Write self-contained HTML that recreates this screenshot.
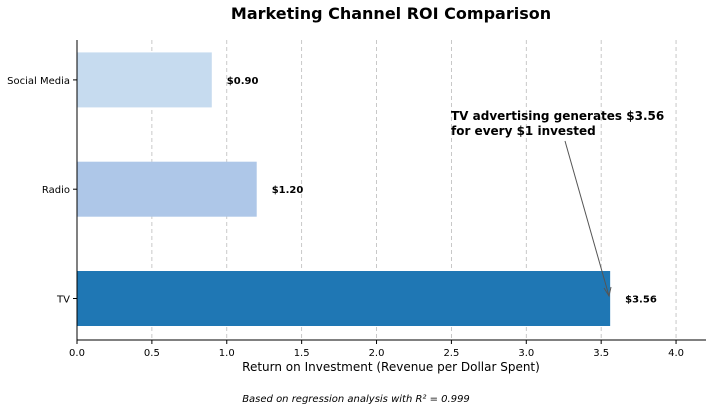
<!DOCTYPE html>
<html><head><meta charset="utf-8"><style>
body{margin:0;background:#fff;font-family:"DejaVu Sans","Liberation Sans",sans-serif}
svg text{font-family:"DejaVu Sans","Liberation Sans",sans-serif}
</style></head><body>
<svg id="c" width="712" height="411" xmlns="http://www.w3.org/2000/svg">
<text x="391" y="19" text-anchor="middle" font-size="16" font-weight="bold">Marketing Channel ROI Comparison</text>
<g id="grid"></g><g id="bars"></g><g id="axes"></g>
<text x="391" y="371" text-anchor="middle" font-size="12">Return on Investment (Revenue per Dollar Spent)</text>
<text x="356" y="402" text-anchor="middle" font-size="10" font-style="italic">Based on regression analysis with R² = 0.999</text>
<text x="451" y="120" font-size="12" font-weight="bold"><tspan x="451">TV advertising generates $3.56</tspan><tspan x="451" dy="15">for every $1 invested</tspan></text>
<line id="arrow" x1="565" y1="141" x2="609" y2="296" stroke="#555" stroke-width="1"/>
</svg>
<script>
const categories=["TV","Radio","Social Media"];
const roiValues=[3.56,1.20,0.90];
const valueLabels=["$3.56","$1.20","$0.90"];
const xTicks=[0,0.5,1.0,1.5,2.0,2.5,3.0,3.5,4.0];
const colors=["#1f77b4","#aec7e8","#c6dbef"];
const NS="http://www.w3.org/2000/svg";
const L=77,R=706,T=40,B=340,XMAX=4.2;
const x=v=>L+v/XMAX*(R-L);
const y=i=>298.5-i*109.3;
function mk(t,a,p){const e=document.createElementNS(NS,t);for(const k in a)e.setAttribute(k,a[k]);p.appendChild(e);return e;}
const g=document.getElementById('grid'),b=document.getElementById('bars'),ax=document.getElementById('axes');
xTicks.forEach(v=>{
 if(v>0){const l=mk('line',{x1:x(v),x2:x(v),y1:T,y2:B,stroke:'#bbb','stroke-dasharray':'4,3','stroke-width':0.8},g);
 }
 const t=mk('line',{x1:x(v),x2:x(v),y1:B,y2:B+4,stroke:'#000'},ax);
 
 const tx=mk('text',{x:x(v),y:B+16,'text-anchor':'middle','font-size':10},ax);tx.textContent=v.toFixed(1);
 
});
categories.forEach((c,i)=>{
 const r=mk('rect',{x:L,y:y(i)-27.5,width:x(roiValues[i])-L,height:55,fill:colors[i]},b);
 
 const vl=mk('text',{x:x(roiValues[i])+15,y:y(i)+4,'font-size':10,'font-weight':'bold'},b);vl.textContent=valueLabels[i];
 
 const tk=mk('line',{x1:L-4,x2:L,y1:y(i),y2:y(i),stroke:'#000'},ax);
 
 const cl=mk('text',{x:L-7,y:y(i)+4,'text-anchor':'end','font-size':10},ax);cl.textContent=c;
 
});
const la=mk('line',{x1:L,x2:L,y1:T,y2:B,stroke:'#000'},ax);

const lb=mk('line',{x1:L,x2:R,y1:B,y2:B,stroke:'#000'},ax);

const ah=mk('path',{d:'M604,288 L609,296 L611,287',fill:'none',stroke:'#555'},document.getElementById('c'));

</script>
</body></html>
